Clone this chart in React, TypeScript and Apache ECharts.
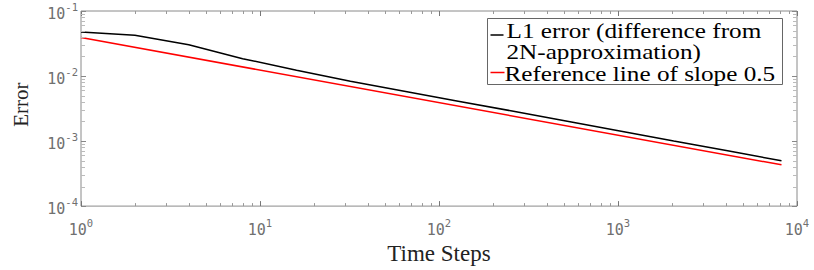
import React, { useEffect, useRef } from "react";
import * as echarts from "echarts";

// ---- data ----
const timeSteps = [1, 2, 4, 8, 16, 32, 64, 128, 256, 512, 1024, 2048, 4096, 8192];
const l1Error = [0.0475, 0.0425, 0.0302, 0.0185, 0.0123, 0.00834, 0.00585, 0.0041, 0.0029, 0.00203, 0.00143, 0.001, 0.000707, 0.000498];
const refSteps = [1, 8192];
const refLine = [0.039, 0.000431];
const xDecades = [1, 10, 100, 1000, 10000];
const yDecades = [0.0001, 0.001, 0.01, 0.1];
const legendLabels = ["L1 error (difference from", "2N-approximation)", "Reference line of slope 0.5"];
const seriesNames = ["L1 error (difference from 2N-approximation)", "Reference line of slope 0.5"];

const X_MIN = xDecades[0];
const X_MAX = xDecades[xDecades.length - 1];
const Y_MIN = yDecades[0];
const Y_MAX = yDecades[yDecades.length - 1];

const AXIS_COLOR = "#8a8a8a";
const LABEL_COLOR = "#707070";
const MONO = "DejaVu Sans Mono";
const SERIF = "Liberation Serif";

function logTicks(decades: number[]) {
  const out: { value: number; major: number }[] = [];
  for (let i = 0; i < decades.length - 1; i++) {
    for (let k = 1; k < 10; k++) out.push({ value: decades[i] * k, major: k === 1 ? 1 : 0 });
  }
  out.push({ value: decades[decades.length - 1], major: 1 });
  return out;
}

const labelFormatter = (v: number) => `{b|10}{s|${Math.round(Math.log10(v))}}`;
const labelRich = {
  b: { fontFamily: MONO, fontSize: 15, color: LABEL_COLOR, lineHeight: 20, verticalAlign: "bottom" },
  s: { fontFamily: MONO, fontSize: 10.5, color: LABEL_COLOR, lineHeight: 20, verticalAlign: "top" },
};

export default function App() {
  const ref = useRef<HTMLDivElement>(null);
  useEffect(() => {
    if (!ref.current) return;
    const chart = echarts.init(ref.current, null, { renderer: "svg" });
    const xTicks = logTicks(xDecades).map((t) => [t.value, Y_MIN, t.major]);
    const yTicks = logTicks(yDecades).map((t) => [X_MIN, t.value, t.major]);

    const legendX = 487;
    const legendY = 18;
    const textScale = 1.26;
    const legendText = (txt: string, x: number, y: number) => ({
      type: "text",
      x,
      y,
      scaleX: textScale,
      style: { text: txt, fontFamily: SERIF, fontSize: 20, fill: "#000", verticalAlign: "middle", align: "left" },
    });

    chart.setOption({
      animation: false,
      backgroundColor: "#ffffff",
      grid: { left: 81, right: 17, top: 11, bottom: 53, show: true, borderColor: AXIS_COLOR, borderWidth: 1, containLabel: false },
      xAxis: {
        type: "log",
        logBase: 10,
        min: X_MIN,
        max: X_MAX,
        splitNumber: 4,
        name: "Time Steps",
        nameLocation: "middle",
        nameGap: 34,
        nameTextStyle: { fontFamily: SERIF, fontSize: 23, color: "#222" },
        axisLine: { show: false },
        axisTick: { show: false },
        splitLine: { show: false },
        minorTick: { show: false },
        axisLabel: { margin: 11, formatter: labelFormatter, rich: labelRich },
      },
      yAxis: {
        type: "log",
        logBase: 10,
        min: Y_MIN,
        max: Y_MAX,
        splitNumber: 3,
        name: "Error",
        nameLocation: "middle",
        nameGap: 50,
        nameTextStyle: { fontFamily: SERIF, fontSize: 21, color: "#222", padding: [0, 0, 0, 8] },
        axisLine: { show: false },
        axisTick: { show: false },
        splitLine: { show: false },
        minorTick: { show: false },
        axisLabel: { margin: 3, formatter: labelFormatter, rich: labelRich },
      },
      series: [
        {
          name: seriesNames[0],
          type: "line",
          data: timeSteps.map((s, i) => [s, l1Error[i]]),
          showSymbol: false,
          symbol: "none",
          lineStyle: { color: "#000000", width: 1.5 },
          itemStyle: { color: "#000000" },
          z: 3,
        },
        {
          name: seriesNames[1],
          type: "line",
          data: refSteps.map((s, i) => [s, refLine[i]]),
          showSymbol: false,
          symbol: "none",
          lineStyle: { color: "#ff0000", width: 1.5 },
          itemStyle: { color: "#ff0000" },
          z: 3,
        },
        {
          type: "custom",
          silent: true,
          encode: { x: 0, y: 1 },
          data: xTicks,
          z: 4,
          renderItem: (params: any, api: any) => {
            const v = api.value(0);
            const major = api.value(2) === 1;
            const p = api.coord([v, Y_MIN]);
            const cs = params.coordSys;
            const x = Math.round(p[0]) + 0.5;
            const bottom = cs.y + cs.height;
            const top = cs.y;
            const len = major ? 5 : 3;
            const style = { stroke: major ? "#777" : "#999", lineWidth: 1 };
            return {
              type: "group",
              children: [
                { type: "line", shape: { x1: x, y1: bottom, x2: x, y2: bottom - len }, style },
                { type: "line", shape: { x1: x, y1: top, x2: x, y2: top + len }, style },
              ],
            };
          },
        },
        {
          type: "custom",
          silent: true,
          encode: { x: 0, y: 1 },
          data: yTicks,
          z: 4,
          renderItem: (params: any, api: any) => {
            const v = api.value(1);
            const major = api.value(2) === 1;
            const p = api.coord([X_MIN, v]);
            const cs = params.coordSys;
            const y = Math.round(p[1]) + 0.5;
            const left = cs.x;
            const right = cs.x + cs.width;
            const len = major ? 5 : 4;
            const style = { stroke: major ? "#888" : "#bbb", lineWidth: 1 };
            return {
              type: "group",
              children: [
                { type: "line", shape: { x1: left, y1: y, x2: left + len, y2: y }, style },
                { type: "line", shape: { x1: right, y1: y, x2: right - len, y2: y }, style },
              ],
            };
          },
        },
      ],
      graphic: [
        {
          type: "group",
          left: legendX,
          top: legendY,
          z: 10,
          children: [
            { type: "rect", x: 0, y: 0, shape: { width: 295, height: 66 }, style: { fill: "#fff", stroke: "#666", lineWidth: 1 } },
            { type: "line", shape: { x1: 3, y1: 16.5, x2: 16, y2: 16.5 }, style: { stroke: "#000", lineWidth: 1.5 } },
            { type: "line", shape: { x1: 3, y1: 54, x2: 17, y2: 54 }, style: { stroke: "#ff0000", lineWidth: 1.5 } },
            legendText(legendLabels[0], 19, 13),
            legendText(legendLabels[1], 19, 34),
            legendText(legendLabels[2], 17, 55.5),
          ],
        },
      ],
    });
    return () => chart.dispose();
  }, []);
  return <div ref={ref} style={{ position: "fixed", left: 0, top: 0, width: 814, height: 270, background: "#fff" }} />;
}
